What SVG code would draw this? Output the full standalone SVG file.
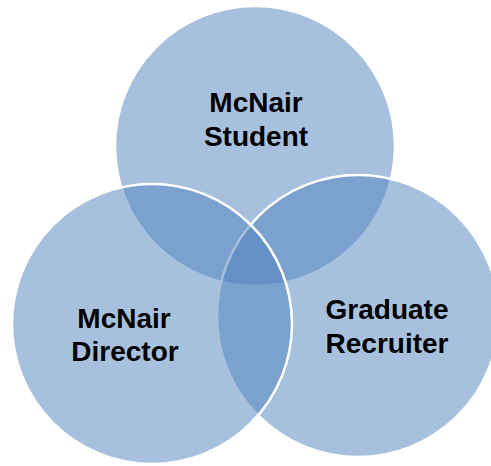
<svg xmlns="http://www.w3.org/2000/svg" width="491" height="466" viewBox="0 0 491 466">
<style>
.c{fill:#4f81bd;fill-opacity:0.5;stroke:#ffffff;stroke-width:2.5}
.t{font-family:"Liberation Sans",Arial,sans-serif;font-weight:bold;font-size:28px;fill:#000000;text-anchor:middle}
</style>
<rect width="491" height="466" fill="#ffffff"/>
<g id="student">
<circle class="c" cx="255" cy="146" r="140"/>
</g>
<g id="recruiter">
<circle class="c" cx="358" cy="316" r="141"/>
</g>
<g id="director">
<circle class="c" cx="152" cy="324" r="140"/>
</g>
<g id="labels">
<text class="t" x="256" y="112">McNair</text>
<text class="t" x="256" y="146">Student</text>
<text class="t" x="124" y="328">McNair</text>
<text class="t" x="125" y="361">Director</text>
<text class="t" x="387" y="319">Graduate</text>
<text class="t" x="387" y="353">Recruiter</text>
</g>
<g id="connectors"></g>
</svg>
